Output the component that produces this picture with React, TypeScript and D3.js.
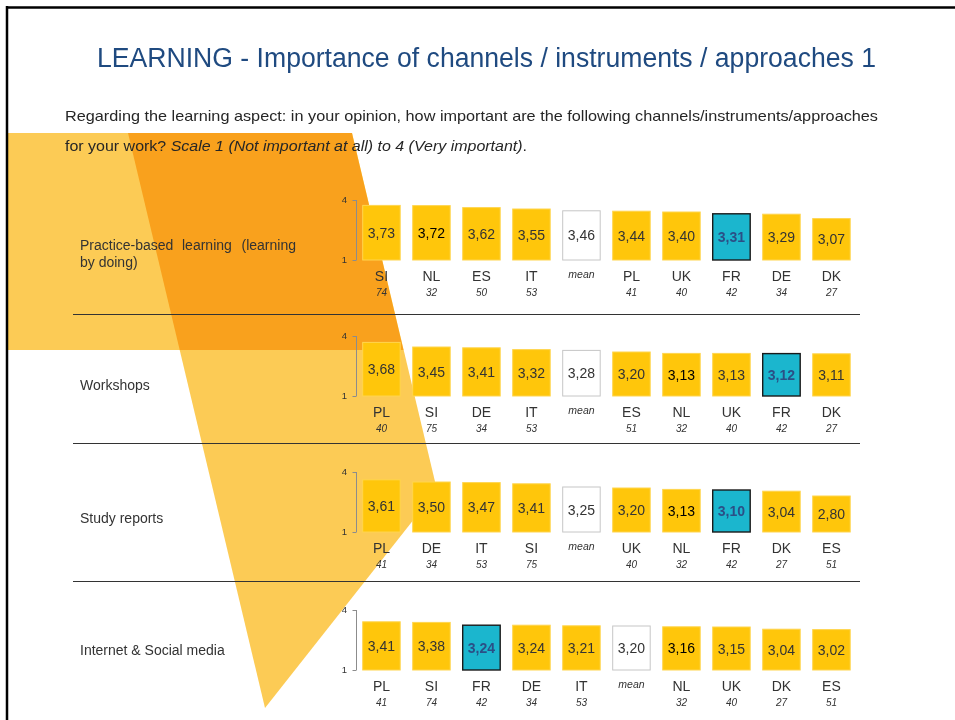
import React from "react";
import * as d3 from "d3";

const title = "LEARNING - Importance of channels / instruments / approaches 1";
const subtitle1 = "Regarding the learning aspect: in your opinion, how important are the following channels/instruments/approaches";
const subtitle2a = "for your work? ";
const subtitle2b = "Scale 1 (Not important at all) to 4 (Very important)";
const subtitle2c = ".";

const panelTitles = ["Practice-based learning (learning by doing)", "Workshops", "Study reports", "Internet & Social media"];

const cats1 = ["SI", "NL", "ES", "IT", "mean", "PL", "UK", "FR", "DE", "DK"];
const vals1 = [3.73, 3.72, 3.62, 3.55, 3.46, 3.44, 3.40, 3.31, 3.29, 3.07];
const ns1 = ["74", "32", "50", "53", "", "41", "40", "42", "34", "27"];

const cats2 = ["PL", "SI", "DE", "IT", "mean", "ES", "NL", "UK", "FR", "DK"];
const vals2 = [3.68, 3.45, 3.41, 3.32, 3.28, 3.20, 3.13, 3.13, 3.12, 3.11];
const ns2 = ["40", "75", "34", "53", "", "51", "32", "40", "42", "27"];

const cats3 = ["PL", "DE", "IT", "SI", "mean", "UK", "NL", "FR", "DK", "ES"];
const vals3 = [3.61, 3.50, 3.47, 3.41, 3.25, 3.20, 3.13, 3.10, 3.04, 2.80];
const ns3 = ["41", "34", "53", "75", "", "40", "32", "42", "27", "51"];

const cats4 = ["PL", "SI", "FR", "DE", "IT", "mean", "NL", "UK", "DK", "ES"];
const vals4 = [3.41, 3.38, 3.24, 3.24, 3.21, 3.20, 3.16, 3.15, 3.04, 3.02];
const ns4 = ["41", "74", "42", "34", "53", "", "32", "40", "27", "51"];

const yTicks = [1, 4];

const panels = [
  { cats: cats1, vals: vals1, ns: ns1 },
  { cats: cats2, vals: vals2, ns: ns2 },
  { cats: cats3, vals: vals3, ns: ns3 },
  { cats: cats4, vals: vals4, ns: ns4 },
];

const FONT = "'Liberation Sans', Arial, sans-serif";
const panelBottoms = [260, 396, 532, 670];
const dividers = [314.5, 443.5, 581.5];
const labelY = [250, 390, 523, 655];

const x = d3
  .scaleBand<number>()
  .domain(d3.range(10))
  .range([356.45, 856.45])
  .paddingInner(0.25)
  .paddingOuter(0.125);

function fmt(v: number) {
  return v.toFixed(2).replace(".", ",");
}

function Panel({ idx }: { idx: number }) {
  const p = panels[idx];
  const bottom = panelBottoms[idx];
  const y = d3.scaleLinear().domain([1, 4]).range([bottom, bottom - 60]);
  const axX = 356.5;
  return (
    <g>
      <line x1={axX} x2={axX} y1={y(4)} y2={y(1)} stroke="#8c8c8c" strokeWidth={1} />
      {yTicks.map((t) => (
        <g key={t}>
          <line x1={axX - 4} x2={axX} y1={y(t) + 0.5} y2={y(t) + 0.5} stroke="#8c8c8c" strokeWidth={1} />
          <text x={347} y={y(t)} dy="0.35em" textAnchor="end" fontSize={9.5} fill="#333" fontFamily={FONT}>
            {t}
          </text>
        </g>
      ))}
      {p.cats.map((c, i) => {
        const v = p.vals[i];
        const isMean = c === "mean";
        const isFR = c === "FR";
        const isNL = c === "NL";
        const bx = x(i)!;
        const bw = x.bandwidth();
        const top = y(v);
        const fill = isMean ? "#ffffff" : isFR ? "#1bb6ce" : "#ffc60b";
        const stroke = isMean ? "#c6c6c6" : isFR ? "#1a1a1a" : "#ffd54f";
        const sw = isFR ? 1.4 : 1;
        const cx = bx + bw / 2;
        return (
          <g key={i}>
            <rect x={bx} y={top} width={bw} height={y(1) - top} fill={fill} stroke={stroke} strokeWidth={sw} />
            <text
              x={cx}
              y={(top + y(1)) / 2}
              dy="0.36em"
              textAnchor="middle"
              fontSize={14}
              fontFamily={FONT}
              fontWeight={isFR ? "bold" : "normal"}
              fill={isFR ? "#2b4f86" : isNL ? "#000" : "#333"}
            >
              {fmt(v)}
            </text>
            {isMean ? (
              <text x={cx} y={bottom + 18} textAnchor="middle" fontSize={10.5} fontStyle="italic" fill="#333" fontFamily={FONT}>
                mean
              </text>
            ) : (
              <>
                <text x={cx} y={bottom + 21} textAnchor="middle" fontSize={14} fill="#333" fontFamily={FONT}>
                  {c}
                </text>
                <text x={cx} y={bottom + 36} textAnchor="middle" fontSize={10} fontStyle="italic" fill="#333" fontFamily={FONT}>
                  {p.ns[i]}
                </text>
              </>
            )}
          </g>
        );
      })}
    </g>
  );
}

export default function App() {
  const shapeFill = "#fccb55";
  return (
    <svg width={955} height={720} style={{ position: "absolute", left: 0, top: 0, display: "block" }}>
      <rect x={0} y={0} width={955} height={720} fill="#fff" />
      {/* decorative shapes */}
      <g style={{ isolation: "isolate" }}>
        <polygon points="7,133 352,133 403.5,350 7,350" fill={shapeFill} style={{ mixBlendMode: "multiply" }} />
        <polygon points="128,133 352,133 437,490 265,708" fill={shapeFill} style={{ mixBlendMode: "multiply" }} />
      </g>
      {/* frame */}
      <line x1={6} x2={955} y1={7.5} y2={7.5} stroke="#000" strokeWidth={2.5} />
      <line x1={7} x2={7} y1={6} y2={720} stroke="#000" strokeWidth={2.5} />
      {/* title */}
      <text x={97} y={67} fontSize={27} fill="#1f4a80" fontFamily={FONT} textLength={779} lengthAdjust="spacingAndGlyphs">
        {title}
      </text>
      <text x={65} y={121} fontSize={15} fill="#262626" fontFamily={FONT} textLength={813} lengthAdjust="spacingAndGlyphs">
        {subtitle1}
      </text>
      <text x={65} y={151} fontSize={15} fill="#262626" fontFamily={FONT} textLength={462} lengthAdjust="spacingAndGlyphs">
        {subtitle2a}
        <tspan fontStyle="italic">{subtitle2b}</tspan>
        {subtitle2c}
      </text>
      {/* dividers */}
      {dividers.map((d) => (
        <line key={d} x1={73} x2={860} y1={d} y2={d} stroke="#333" strokeWidth={1} />
      ))}
      {/* row labels */}
      <g fontFamily={FONT} fontSize={14} fill="#333">
        <text x={80} y={labelY[0]}>Practice-based</text>
        <text x={182} y={labelY[0]}>learning</text>
        <text x={296} y={labelY[0]} textAnchor="end">(learning</text>
        <text x={80} y={labelY[0] + 17}>by doing)</text>
        <text x={80} y={labelY[1]}>{panelTitles[1]}</text>
        <text x={80} y={labelY[2]}>{panelTitles[2]}</text>
        <text x={80} y={labelY[3]}>{panelTitles[3]}</text>
      </g>
      {panels.map((_, i) => (
        <Panel key={i} idx={i} />
      ))}
    </svg>
  );
}
